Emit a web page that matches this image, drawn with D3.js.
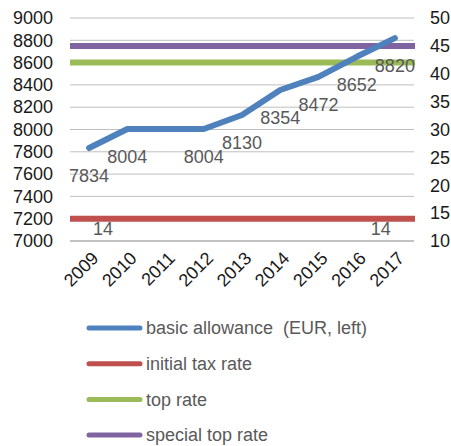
<!DOCTYPE html>
<html>
<head>
<meta charset="utf-8">
<script src="https://cdn.jsdelivr.net/npm/d3@7"></script>
<style>
  html, body { margin: 0; padding: 0; background: #fff; }
  svg { display: block; font-family: "Liberation Sans", Arial, sans-serif; }
  .legend-text { white-space: pre; }
</style>
</head>
<body>
<svg id="chart" width="451" height="446"></svg>
<script>
// Years on the category axis
const years = ["2009", "2010", "2011", "2012", "2013", "2014", "2015", "2016", "2017"];
// Basic allowance in EUR (left axis)
const allowance = [7834, 8004, 8004, 8004, 8130, 8354, 8472, 8652, 8820];
// Which allowance points carry a value label
const allowanceLabelled = [true, true, false, true, true, true, true, true, true];
// Tax rates in percent (right axis)
const initialRate = [14, 14, 14, 14, 14, 14, 14, 14, 14];
const topRate = [42, 42, 42, 42, 42, 42, 42, 42, 42];
const specialTopRate = [45, 45, 45, 45, 45, 45, 45, 45, 45];
// Axis ticks
const leftTicks = [7000, 7200, 7400, 7600, 7800, 8000, 8200, 8400, 8600, 8800, 9000];
const rightTicks = [10, 15, 20, 25, 30, 35, 40, 45, 50];
// Legend entries
const legendLabels = ["basic allowance  (EUR, left)", "initial tax rate", "top rate", "special top rate"];
const colors = ["#4F81BD", "#C0504D", "#9BBB59", "#8064A2"];

const svg = d3.select("#chart");
const plot = { left: 70, right: 414, top: 18, bottom: 241 };

const x = d3.scaleBand().domain(years).range([plot.left, plot.right]);
const cx = d => x(d) + x.bandwidth() / 2;
const yL = d3.scaleLinear().domain([7000, 9000]).range([plot.bottom, plot.top]);
const yR = d3.scaleLinear().domain([10, 50]).range([plot.bottom, plot.top]);

// Horizontal gridlines
svg.append("g")
  .selectAll("line")
  .data(leftTicks.slice(1))
  .join("line")
  .attr("x1", plot.left).attr("x2", plot.right)
  .attr("y1", d => yL(d)).attr("y2", d => yL(d))
  .attr("stroke", "#BFBFBF").attr("stroke-width", 1);

// Category axis line
svg.append("line")
  .attr("x1", plot.left).attr("x2", plot.right)
  .attr("y1", yL(7000)).attr("y2", yL(7000))
  .attr("stroke", "#868686").attr("stroke-width", 1);

// Left axis labels
const leftAxis = d3.axisLeft(yL).tickValues(leftTicks).tickFormat(d3.format("d")).tickSize(0).tickPadding(17);
svg.append("g").attr("transform", `translate(${plot.left},0)`).call(leftAxis)
  .call(g => g.select(".domain").remove())
  .selectAll("text").attr("font-size", 18).attr("fill", "#1a1a1a")
  .attr("font-family", "Liberation Sans, Arial, sans-serif");

// Right axis labels
const rightAxis = d3.axisRight(yR).tickValues(rightTicks).tickFormat(d3.format("d")).tickSize(0).tickPadding(16);
svg.append("g").attr("transform", `translate(${plot.right},0)`).call(rightAxis)
  .call(g => g.select(".domain").remove())
  .selectAll("text").attr("font-size", 18).attr("fill", "#1a1a1a")
  .attr("font-family", "Liberation Sans, Arial, sans-serif");

// Rotated year labels
svg.append("g")
  .selectAll("text")
  .data(years)
  .join("text")
  .attr("transform", d => `translate(${cx(d) + 6},${plot.bottom + 14}) rotate(-45)`)
  .attr("text-anchor", "end")
  .attr("dy", "0.35em")
  .attr("font-size", 18)
  .attr("fill", "#1a1a1a")
  .text(d => d);

// Rate series drawn across the full plot width on the right axis
const rateSeries = [
  { values: initialRate, color: colors[1] },
  { values: topRate, color: colors[2] },
  { values: specialTopRate, color: colors[3] }
];
rateSeries.forEach(s => {
  const xs = d3.scaleLinear().domain([0, s.values.length - 1]).range([plot.left, plot.right + 1]);
  const line = d3.line().x((d, i) => xs(i)).y(d => yR(d));
  svg.append("path")
    .datum(s.values)
    .attr("d", line)
    .attr("fill", "none")
    .attr("stroke", s.color)
    .attr("stroke-width", 6);
});

// Basic allowance line
const allowanceLine = d3.line().x((d, i) => cx(years[i])).y(d => yL(d));
svg.append("path")
  .datum(allowance)
  .attr("d", allowanceLine)
  .attr("fill", "none")
  .attr("stroke", colors[0])
  .attr("stroke-width", 6)
  .attr("stroke-linecap", "round")
  .attr("stroke-linejoin", "round");

// Value labels below the allowance points
svg.append("g")
  .selectAll("text")
  .data(allowance.map((v, i) => ({ v, year: years[i], show: allowanceLabelled[i] })).filter(d => d.show))
  .join("text")
  .attr("x", d => cx(d.year))
  .attr("y", d => yL(d.v) + 28)
  .attr("dy", "0.35em")
  .attr("text-anchor", "middle")
  .attr("font-size", 18)
  .attr("fill", "#595959")
  .text(d => d.v);

// Initial rate labels at both ends
const firstI = 0, lastI = initialRate.length - 1;
svg.append("g")
  .selectAll("text")
  .data([{ i: firstI, shift: 14 }, { i: lastI, shift: -14 }])
  .join("text")
  .attr("x", d => cx(years[d.i]) + d.shift)
  .attr("y", d => yR(initialRate[d.i]) + 10)
  .attr("dy", "0.35em")
  .attr("text-anchor", "middle")
  .attr("font-size", 18)
  .attr("fill", "#595959")
  .text(d => initialRate[d.i]);

// Legend
const legend = svg.append("g")
  .selectAll("g")
  .data(legendLabels)
  .join("g")
  .attr("transform", (d, i) => `translate(0,${328 + i * 35.7})`);
legend.append("line")
  .attr("x1", 89).attr("x2", 140)
  .attr("y1", 0).attr("y2", 0)
  .attr("stroke", (d, i) => colors[i])
  .attr("stroke-width", 5)
  .attr("stroke-linecap", "round");
legend.append("text")
  .attr("class", "legend-text")
  .attr("x", 146)
  .attr("y", 0)
  .attr("dy", "0.35em")
  .attr("font-size", 18)
  .attr("fill", "#595959")
  .text(d => d);
</script>
</body>
</html>
